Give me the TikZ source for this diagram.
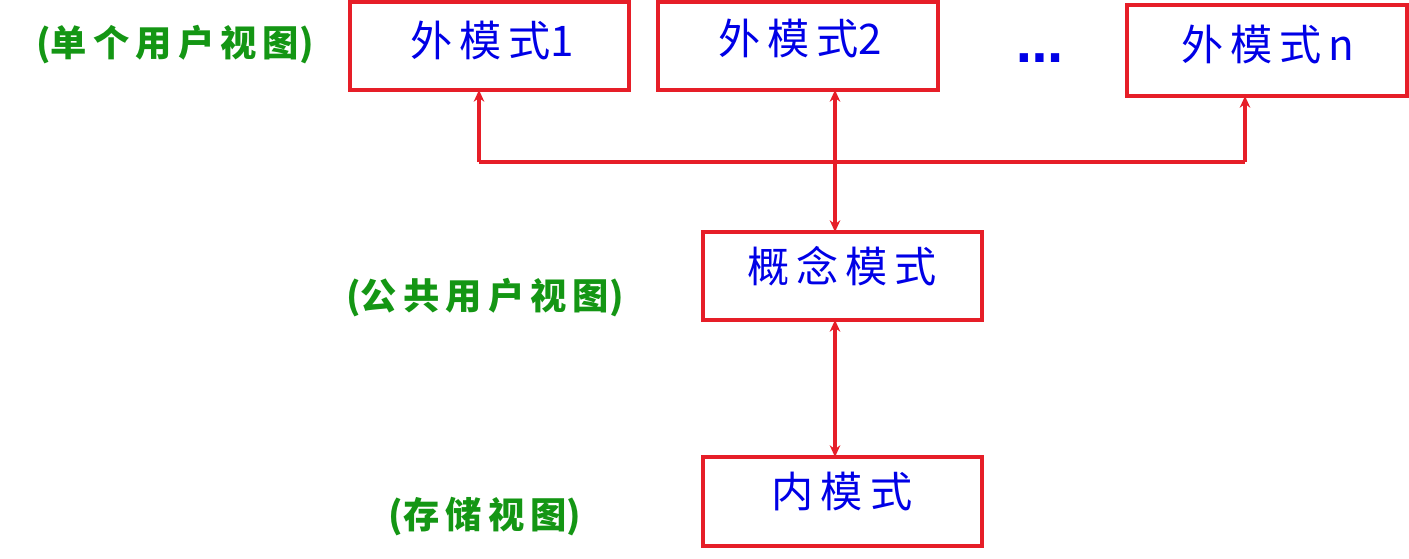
\documentclass[tikz,border=0pt]{standalone}
\usepackage{fontspec}
\newfontfamily\cjk{Noto Sans CJK SC}
\newfontfamily\dv{DejaVu Sans}
\usetikzlibrary{arrows.meta}
\definecolor{bred}{RGB}{230,30,40}
\definecolor{tblue}{RGB}{0,0,230}
\definecolor{tgreen}{RGB}{20,150,20}
\begin{document}
\begin{tikzpicture}[x=0.03cm,y=-0.03cm,
  box/.style={draw=bred,line width=3.2pt,inner sep=0},
  btxt/.style={text=tblue,font=\cjk\fontsize{36}{40}\selectfont},
  gtxt/.style={text=tgreen,font=\cjk\bfseries\fontsize{31}{36}\selectfont},
  conn/.style={draw=bred,line width=3.2pt,-{Stealth[length=10pt,width=9pt]}},
  conn2/.style={draw=bred,line width=3.2pt,{Stealth[length=10pt,width=9pt]}-{Stealth[length=10pt,width=9pt]}}]
\useasboundingbox (0,0) rectangle (1409,558);
\draw[box] (350,2) rectangle (629,90);
\draw[box] (658,2) rectangle (938,90);
\draw[box] (1127,5) rectangle (1407,96);
\draw[box] (703,232) rectangle (982,320);
\draw[box] (703,457) rectangle (982,546);
\node[btxt] (t1) at (492,40) {外\,模\,式1};
\node[btxt] (t2) at (800,38) {外\,模\,式2};
\node[btxt] (tn) at (1268,44) {外\,模\,式\,n};
\node[btxt] (tc) at (842,266) {概\,念\,模\,式};
\node[btxt] (ti) at (842,492) {内\,模\,式};
\node[text=tblue,font=\dv\bfseries\fontsize{40}{44}\selectfont] (dots) at (1040,58) {…};
\node[gtxt] (g1) at (175,45) {(单\,个\,用\,户\,视\,图)};
\node[gtxt] (g2) at (485,298) {(公\,共\,用\,户\,视\,图)};
\node[gtxt] (g3) at (485,517) {(存\,储\,视\,图)};
\coordinate (a1) at (479,90);
\coordinate (j1) at (479,162);
\coordinate (a2) at (835,90);
\coordinate (c1) at (835,232);
\coordinate (c2) at (835,320);
\coordinate (i1) at (835,457);
\coordinate (an) at (1245,96);
\coordinate (jn) at (1245,162);
\draw[draw=bred,line width=3.2pt] (j1) -- (jn);
\draw[conn] (j1) -- (a1);
\draw[conn] (jn) -- (an);
\draw[conn2] (a2) -- (c1);
\draw[conn2] (c2) -- (i1);
\end{tikzpicture}
\end{document}
